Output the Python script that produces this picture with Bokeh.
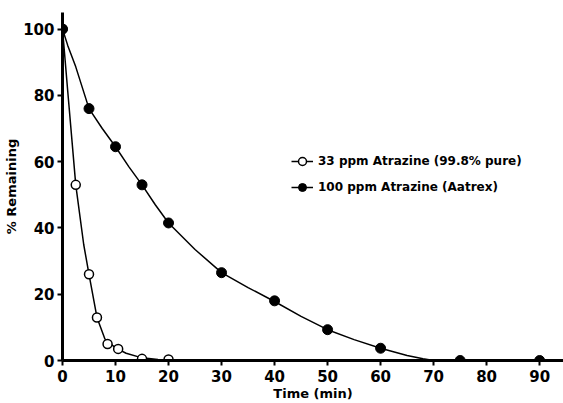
from bokeh.plotting import figure
from bokeh.models import Range1d, Legend, LegendItem, FixedTicker
from bokeh.embed import file_html
from bokeh.resources import INLINE

# Measured data points
t_33 = [0, 2.5, 5, 6.5, 8.5, 10.5, 15, 20]
y_33 = [100, 53, 26, 13, 5, 3.5, 0.5, 0.3]

t_100 = [0, 5, 10, 15, 20, 30, 40, 50, 60, 75, 90]
y_100 = [100, 76, 64.5, 53, 41.5, 26.5, 18, 9.3, 3.7, 0, 0]

# Fitted curves
fit_t_33 = [0, 1, 2.5, 4, 5, 6.5, 8, 10, 12, 15, 18, 20]
fit_y_33 = [100, 81, 53, 35, 26, 13, 6.5, 3.8, 2.2, 0.8, 0.3, 0.2]

fit_t_100 = [0, 1, 2.5, 5, 7.5, 10, 12.5, 15, 17.5, 20, 25, 30, 35, 40, 45, 50, 55, 60, 65, 68, 70, 94]
fit_y_100 = [100, 95, 88.6, 76, 70, 64.5, 58.5, 53, 47, 41.5, 33.5, 26.5, 22, 17.8, 13.3, 9.3, 6.3, 3.7, 1.5, 0.5, 0, 0]

x_ticks = [0, 10, 20, 30, 40, 50, 60, 70, 80, 90]
y_ticks = [0, 20, 40, 60, 80, 100]

label_33 = "33 ppm Atrazine (99.8% pure)"
label_100 = "100 ppm Atrazine (Aatrex)"
x_title = "Time (min)"
y_title = "% Remaining"

FONT = "DejaVu Sans"

p = figure(width=563, height=403, output_backend="svg", toolbar_location=None,
           x_range=Range1d(0, 94.5), y_range=Range1d(0, 105),
           min_border_left=62, min_border_right=0, min_border_top=12, min_border_bottom=43)
p.outline_line_color = None
p.xgrid.visible = False
p.ygrid.visible = False
p.background_fill_color = "white"

for ax in (p.xaxis, p.yaxis):
    ax.axis_line_width = 3
    ax.axis_line_color = "black"
    ax.major_tick_line_width = 2
    ax.major_tick_line_color = "black"
    ax.major_tick_out = 5
    ax.major_tick_in = 0
    ax.minor_tick_line_color = None
    ax.major_label_text_font = FONT
    ax.major_label_text_font_style = "bold"
    ax.major_label_text_font_size = "15px"
    ax.major_label_text_color = "black"
    ax.axis_label_text_font = FONT
    ax.axis_label_text_font_style = "bold"
    ax.axis_label_text_color = "black"
    ax.axis_label_text_font_size = "13px"

p.xaxis.ticker = FixedTicker(ticks=x_ticks)
p.yaxis.ticker = FixedTicker(ticks=y_ticks)
p.xaxis.major_label_standoff = 4
p.yaxis.major_label_standoff = 3
p.xaxis.axis_label = x_title
p.yaxis.axis_label = y_title
p.xaxis.axis_label_standoff = 1
p.yaxis.axis_label_standoff = 1

l33 = p.line(fit_t_33, fit_y_33, line_color="black", line_width=1.5)
l100 = p.line(fit_t_100, fit_y_100, line_color="black", line_width=1.5)
s33 = p.scatter(t_33, y_33, marker="circle", size=9, fill_color="white",
                line_color="black", line_width=1.5)
s100 = p.scatter(t_100, y_100, marker="circle", size=10, fill_color="black",
                 line_color="black", line_width=1)

legend = Legend(items=[LegendItem(label=label_33, renderers=[l33, s33]),
                       LegendItem(label=label_100, renderers=[l100, s100])],
                location=(229, 163), orientation="vertical",
                border_line_color=None, background_fill_alpha=0,
                padding=0, margin=0, spacing=6, glyph_width=22, glyph_height=20,
                label_standoff=5, label_text_font=FONT, label_text_font_style="bold",
                label_text_font_size="12px", label_height=20, label_text_color="black")
p.add_layout(legend)

open("out.html", "w").write(file_html(p, INLINE))
